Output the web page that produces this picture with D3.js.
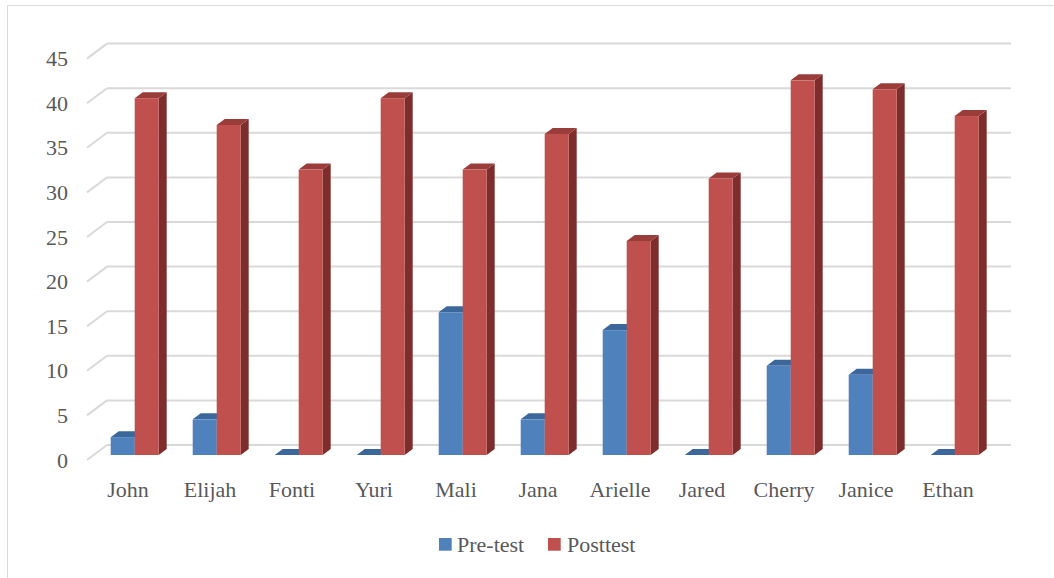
<!DOCTYPE html>
<html>
<head>
<meta charset="utf-8">
<script src="https://cdn.jsdelivr.net/npm/d3@7"></script>
<style>
  html, body { margin: 0; padding: 0; background: #fff; }
  svg { display: block; }
  text { font-family: "Liberation Serif", "Times New Roman", serif; fill: #595959; }
</style>
</head>
<body>
<svg id="chart" width="1054" height="578"></svg>
<script>
// Scores per student
const students = ["John", "Elijah", "Fonti", "Yuri", "Mali", "Jana", "Arielle", "Jared", "Cherry", "Janice", "Ethan"];
const preTest  = [2, 4, 0, 0, 16, 4, 14, 0, 10, 9, 0];
const postTest = [40, 37, 32, 40, 32, 36, 24, 31, 42, 41, 38];
const seriesNames = ["Pre-test", "Posttest"];
const yTicks = [0, 5, 10, 15, 20, 25, 30, 35, 40, 45];

const svg = d3.select("#chart");

// Chart frame border
svg.append("rect")
  .attr("x", 7.5).attr("y", 5.5)
  .attr("width", 1060).attr("height", 600)
  .attr("fill", "none").attr("stroke", "#D9D9D9").attr("stroke-width", 1);

// 3D floor geometry: front edge of floor and full depth offset
const floorLeft = 87, floorWidth = 902;
const depth = { dx: 20, dy: -15 };       // back wall offset from front edge
const barDepth = { dx: 6.7, dy: -5 };    // bar front face offset from front edge
const barThick = { dx: 8, dy: -6 };      // bar side/top depth

const y = d3.scaleLinear().domain([0, 45]).range([460, 58.6]);
const x = d3.scaleBand().domain(students).range([floorLeft, floorLeft + floorWidth]);
const xs = d3.scaleBand().domain(seriesNames).range([17, 65]);

// Gridlines on the back wall plus slanted edge on the left side wall
const grid = svg.append("g");
yTicks.forEach(v => {
  const yf = y(v), yb = yf + depth.dy;
  grid.append("line")
    .attr("x1", floorLeft + depth.dx).attr("x2", 1011)
    .attr("y1", yb).attr("y2", yb)
    .attr("stroke", "#D9D9D9").attr("stroke-width", 2);
  grid.append("line")
    .attr("x1", floorLeft).attr("y1", yf)
    .attr("x2", floorLeft + depth.dx).attr("y2", yb)
    .attr("stroke", "#D9D9D9").attr("stroke-width", 2);
});

// Value axis labels
svg.append("g").selectAll("text")
  .data(yTicks).join("text")
  .attr("x", 68).attr("y", d => y(d))
  .attr("text-anchor", "end").attr("dominant-baseline", "central")
  .attr("font-size", 22)
  .text(d => d);

// Category labels
svg.append("g").selectAll("text")
  .data(students).join("text")
  .attr("x", d => x(d) + x.bandwidth() / 2).attr("y", 497)
  .attr("text-anchor", "middle")
  .attr("font-size", 22)
  .text(d => d);

const colors = {
  "Pre-test": { front: "#4F81BD", top: "#3C679B", side: "#2F5785" },
  "Posttest": { front: "#C0504D", top: "#9A3C39", side: "#7D2E2C" }
};

const rows = students.map((s, i) => ({ name: s, values: [
  { series: "Pre-test", value: preTest[i] },
  { series: "Posttest", value: postTest[i] }
]}));

const bars = svg.append("g");
const base = y(0) + barDepth.dy;
rows.forEach(r => {
  r.values.forEach(d => {
    const c = colors[d.series];
    const x0 = x(r.name) + barDepth.dx + xs(d.series);
    const x1 = x0 + xs.bandwidth();
    const yt = y(d.value) + barDepth.dy;
    const g = bars.append("g");
    // right side face
    g.append("polygon")
      .attr("points", [[x1, yt], [x1 + barThick.dx, yt + barThick.dy], [x1 + barThick.dx, base + barThick.dy], [x1, base]].map(p => p.join(",")).join(" "))
      .attr("fill", c.side);
    // top face
    g.append("polygon")
      .attr("points", [[x0, yt], [x0 + barThick.dx, yt + barThick.dy], [x1 + barThick.dx, yt + barThick.dy], [x1, yt]].map(p => p.join(",")).join(" "))
      .attr("fill", c.top);
    // front face
    g.append("rect")
      .attr("x", x0).attr("y", yt)
      .attr("width", xs.bandwidth()).attr("height", base - yt)
      .attr("fill", c.front);
  });
});

// Legend
const legend = svg.append("g");
const legendItems = [
  { name: "Pre-test", sx: 439, tx: 457 },
  { name: "Posttest", sx: 548, tx: 567 }
];
legendItems.forEach(it => {
  legend.append("rect")
    .attr("x", it.sx).attr("y", 538)
    .attr("width", 12.7).attr("height", 12.7)
    .attr("fill", colors[it.name].front);
  legend.append("text")
    .attr("x", it.tx).attr("y", 552)
    .attr("font-size", 22)
    .text(it.name);
});
</script>
</body>
</html>
